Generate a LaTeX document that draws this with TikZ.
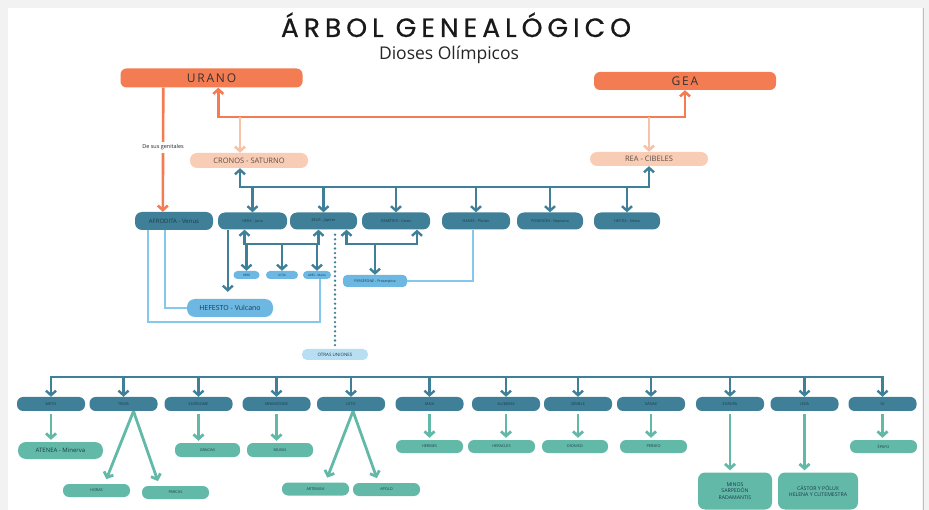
\documentclass[tikz,border=0pt]{standalone}
\usepackage{fontspec}
\setmainfont{Open Sans}
\newfontfamily\titlefont[LetterSpace=19, FakeBold=0.6]{Poppins}
\newfontfamily\spacedfont[LetterSpace=15]{Open Sans}
\usetikzlibrary{arrows.meta,calc}
\definecolor{orng}{HTML}{F47C52}
\definecolor{peach}{HTML}{F9CDB5}
\definecolor{peachln}{HTML}{F6C2A8}
\definecolor{dteal}{HTML}{3F8098}
\definecolor{lblue}{HTML}{6DB8E2}
\definecolor{lbline}{HTML}{86C8EC}
\definecolor{pale}{HTML}{B7DEF2}
\definecolor{mint}{HTML}{62B9A8}
\definecolor{txt}{HTML}{1C3A4A}
\definecolor{pctxt}{HTML}{5E4D45}
\tikzset{
  basebox/.style={inner sep=0pt, align=center, text=txt},
  orbox/.style={basebox, fill=orng, rounded corners=6pt, minimum width=182, minimum height=19,
    font=\spacedfont\fontsize{12}{12}\selectfont, text=black!80},
  pcbox/.style={basebox, fill=peach, rounded corners=7pt, minimum width=118, minimum height=15,
    font=\fontsize{7.5}{7.5}\selectfont, text=pctxt},
  dkbox/.style={basebox, fill=dteal, rounded corners=7pt, minimum width=68, minimum height=17,
    font=\fontsize{3.8}{3.8}\selectfont},
  rowbox/.style={basebox, fill=dteal, rounded corners=6pt, minimum width=68, minimum height=14,
    font=\fontsize{3.8}{3.8}\selectfont},
  lbbox/.style={basebox, fill=lblue, rounded corners=4pt, minimum height=8,
    font=\fontsize{3}{3}\selectfont},
  mtbox/.style={basebox, fill=mint, rounded corners=6pt, minimum width=67, minimum height=13,
    font=\fontsize{3.8}{3.8}\selectfont},
  orln/.style={draw=orng, line width=2.6pt},
  pcln/.style={draw=peachln, line width=2.6pt},
  tlln/.style={draw=dteal, line width=2.4pt},
  lbln/.style={draw=lbline, line width=1.8pt},
  mtln/.style={draw=mint, line width=2.8pt},
  dotln/.style={draw=dteal, line width=2.6pt, dash pattern=on 0pt off 4.6pt, line cap=round},
}
\begin{document}
\begin{tikzpicture}[x=1pt,y=-1pt, >={Straight Barb[length=4.5pt,width=10pt]}]
\useasboundingbox (0,0) rectangle (929,510);
\fill[gray!10] (0,0) rectangle (929,510);
\fill[white] (8,8) rectangle (922,510);
\draw[gray!50, line width=1pt] (923,8) -- (923,510);

% titles
\node[anchor=base, inner sep=0pt, text depth=0pt, text=black!90] (title) at (456,37)
  {\titlefont\fontsize{26.5}{26.5}\selectfont ÁRBOL GENEALÓGICO};
\node[anchor=base, inner sep=0pt, text=black!85] (sub) at (449,59.5)
  {\fontsize{17.5}{17.5}\selectfont Dioses Olímpicos};

% top parents
\node[orbox] (urano) at (211.5,78) {URANO};
\node[orbox, minimum height=18] (gea) at (685,81) {GEA};
\node[pcbox] (cronos) at (249,160.5) {CRONOS - SATURNO};
\node[pcbox, minimum height=14] (rea) at (649,159) {REA - CIBELES};

% row 2
\node[dkbox, minimum width=78, minimum height=18, font=\fontsize{6}{6}\selectfont] (afro) at (174,221) {AFRODITA - Venus};
\node[dkbox, minimum width=69] (hera) at (252.5,221) {HERA - Juno};
\node[dkbox, minimum width=67] (zeus) at (323.5,221) {ZEUS - Júpiter};
\node[dkbox] (demeter) at (396,221) {DEMÉTER - Ceres};
\node[dkbox] (hades) at (476,221) {HADES - Plutón};
\node[dkbox, minimum width=66] (poseidon) at (550,221) {POSEIDÓN - Neptuno};
\node[dkbox, minimum width=66] (hestia) at (627,221) {HESTIA - Vesta};

% row 3
\node[lbbox, minimum width=26] (hebe) at (246.5,275) {HEBE};
\node[lbbox, minimum width=32] (ilitia) at (282,275) {ILITIA};
\node[lbbox, minimum width=28] (ares) at (317,275) {ARES - Marte};
\node[lbbox, minimum width=64, minimum height=12, font=\fontsize{3.6}{3.6}\selectfont] (perse) at (375,281) {PERSÉFONE - Proserpina};
\node[lbbox, minimum width=86, minimum height=18, rounded corners=8pt, font=\fontsize{7}{7}\selectfont] (hef) at (230,308) {HEFESTO - Vulcano};
\node[lbbox, fill=pale, minimum width=66, minimum height=11, rounded corners=5pt, font=\fontsize{4.5}{4.5}\selectfont] (otras) at (335,354.5) {OTRAS UNIONES};

% row 4
\node[rowbox] (metis) at (51,404) {METIS};
\node[rowbox] (temis) at (123.5,404) {TEMIS};
\node[rowbox] (eurinome) at (198.5,404) {EURÍNOME};
\node[rowbox] (mnemosine) at (276.5,404) {MNEMÓSINE};
\node[rowbox] (leto) at (351,404) {LETO};
\node[rowbox] (maia) at (429.5,404) {MAIA};
\node[rowbox] (alcmena) at (506,404) {ALCMENA};
\node[rowbox] (semele) at (578,404) {SÉMELE};
\node[rowbox] (danae) at (651,404) {DÁNAE};
\node[rowbox] (europa) at (730,404) {EUROPA};
\node[rowbox] (leda) at (804.5,404) {LEDA};
\node[rowbox] (io) at (882.5,404) {ÍO};

% row 5
\node[mtbox, minimum width=85, minimum height=17, rounded corners=8pt, font=\fontsize{6}{6}\selectfont] (atenea) at (60.5,450.5) {ATENEA - Minerva};
\node[mtbox, minimum width=65, minimum height=14] (gracias) at (207.5,450) {GRACIAS};
\node[mtbox, minimum width=66, minimum height=14] (musas) at (280,450) {MUSAS};
\node[mtbox] (horas) at (96.5,490.5) {HORAS};
\node[mtbox] (parcas) at (175.5,492.5) {PARCAS};
\node[mtbox] (artemisa) at (315.5,489) {ARTEMISA};
\node[mtbox] (apolo) at (386.5,489.5) {APOLO};
\node[mtbox] (hermes) at (429.5,446.5) {HERMES};
\node[mtbox] (heracles) at (501.5,446.5) {HERACLES};
\node[mtbox, minimum width=66] (dioniso) at (575,446.5) {DIONISO};
\node[mtbox] (perseo) at (653.5,446.5) {PERSEO};
\node[mtbox, minimum width=74, minimum height=37, rounded corners=7pt, font=\fontsize{5.2}{6.6}\selectfont] (minos) at (735,491) {MINOS\\SARPEDÓN\\RADAMANTIS};
\node[mtbox, minimum width=80, minimum height=37, rounded corners=7pt, font=\fontsize{5.2}{6.6}\selectfont] (castor) at (818,491) {CÁSTOR Y PÓLUX\\HELENA Y CLITEMESTRA};
\node[mtbox] (epafo) at (883.5,446.5) {ÉPAFO};

% helper levels
\coordinate (obar) at (0,117);
\coordinate (bar1) at (0,187);
\coordinate (bar2) at (0,244);
\coordinate (bar3) at (0,322);
\coordinate (bar4) at (0,377);

% orange connectors
\draw[orln,->] ([xshift=43]urano.south west) -- node[pos=0.48, fill=white, inner sep=2.5pt, text=black!85, font=\fontsize{5.5}{5.5}\selectfont] {De sus genitales} ([xshift=28]afro.north west);
\draw[orln,<->] ([xshift=98]urano.south west) |- (obar -| gea.south) -- (gea.south);
\draw[pcln,->] ([xshift=-9]cronos.north |- obar) -- ([xshift=-9]cronos.north);
\draw[pcln,->] (rea.north |- obar) -- (rea.north);

% Cronos + Rea
\draw[tlln,<->] ([xshift=-9]cronos.south) |- (bar1 -| rea.south) -- (rea.south);
\foreach \n in {hera,zeus,demeter,hades,poseidon,hestia}
  \draw[tlln,->] (\n.north |- bar1) -- (\n.north);

% Zeus + Hera
\draw[tlln,<->] ([xshift=-8]hera.south) |- ([xshift=-5]zeus.south |- bar2) -- ([xshift=-5]zeus.south);
\foreach \n in {hebe,ilitia,ares}
  \draw[tlln,->] (\n.north |- bar2) -- (\n.north);
\draw[tlln,->,shorten >=7pt] ([xshift=10]hera.south west) -- ([xshift=10]hera.south west |- hef.north);

% Zeus + Demeter
\draw[tlln,<->] ([xshift=23]zeus.south) |- ([xshift=21]demeter.south |- bar2) -- ([xshift=21]demeter.south);
\draw[tlln,->] (perse.north |- bar2) -- (perse.north);

% light blue links
\draw[lbln] ([xshift=30]afro.south west) |- (hef.west);
\draw[lbln] ([xshift=13]afro.south west) |- ([xshift=3]ares.south |- bar3) -- ([xshift=3]ares.south);
\draw[lbln] (perse.east) -| ([xshift=-3]hades.south);

% other unions
\draw[dotln] ([yshift=-5]zeus.south -| otras.north) -- ([yshift=3]otras.north);
\draw[tlln] ([xshift=-1.2]metis.north |- bar4) -- ([xshift=1.2]io.north |- bar4);
\foreach \n in {metis,temis,eurinome,mnemosine,leto,maia,alcmena,semele,danae,europa,leda,io}
  \draw[tlln,->] (\n.north |- bar4) -- (\n.north);

% children of other unions
\foreach \a/\b in {metis/atenea,eurinome/gracias,mnemosine/musas,maia/hermes,alcmena/heracles,semele/dioniso,danae/perseo,europa/minos,leda/castor,io/epafo}
  \draw[mtln,->,shorten <=3pt,shorten >=2pt] (\a.south) -- (\a.south |- \b.north);
\draw[mtln,->,shorten >=5pt] ([xshift=10]temis.south) -- ([xshift=8]horas.north);
\draw[mtln,->,shorten >=5pt] ([xshift=10]temis.south) -- ([xshift=-16]parcas.north);
\draw[mtln,->,shorten >=5pt] ([xshift=2]leto.south) -- ([xshift=10]artemisa.north);
\draw[mtln,->,shorten >=5pt] ([xshift=2]leto.south) -- ([xshift=-8]apolo.north);
\end{tikzpicture}
\end{document}
